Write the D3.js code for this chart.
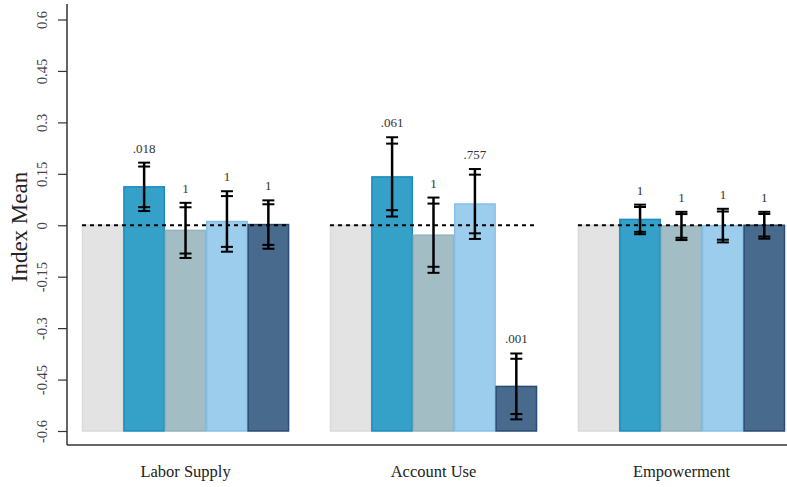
<!DOCTYPE html>
<html>
<head>
<meta charset="utf-8">
<script src="https://cdn.jsdelivr.net/npm/d3@7"></script>
<style>
  body { margin: 0; background: #fff; }
  svg text { font-family: "Liberation Serif", "Times New Roman", serif !important; }
</style>
</head>
<body>
<div id="chart-area"></div>
<script>
// data
const groups = ['Labor Supply', 'Account Use', 'Empowerment'];
const series = ['control', 'treat1', 'treat2', 'treat3', 'treat4'];
const means = [
  [0, 0.112, -0.015, 0.011, 0.002],
  [0, 0.141, -0.029, 0.062, -0.470],
  [0, 0.017, -0.002, -0.001, 0.000]
];
const ses = [
  [null, 0.036, 0.041, 0.045, 0.036],
  [null, 0.059, 0.056, 0.052, 0.049],
  [null, 0.022, 0.021, 0.025, 0.020]
];
const pvals = [
  [null, '.018', '1', '1', '1'],
  [null, '.061', '1', '.757', '.001'],
  [null, '1', '1', '1', '1']
];
const yTicks = [-0.6, -0.45, -0.3, -0.15, 0, 0.15, 0.3, 0.45, 0.6];

const fills = ['#e3e3e3', '#35a1c9', '#a3bdc5', '#9dcdec', '#486a8c'];
const strokes = ['#dadada', '#1b8bbf', '#95b1ba', '#86c0e8', '#2b4c72'];

const W = 787, H = 487;
const svg = d3.select('#chart-area')
  .append('svg')
  .attr('width', W)
  .attr('height', H);

const y = d3.scaleLinear()
  .domain([-0.6, 0.6])
  .range([431, 19.5]);

const x0 = d3.scaleBand()
  .domain(groups)
  .range([61.5, 805.5])
  .paddingInner(0.165)
  .paddingOuter(0.0827);

const x1 = d3.scaleBand()
  .domain(series)
  .range([0, x0.bandwidth()]);

// flatten into rows
const rows = [];
groups.forEach((g, i) => {
  series.forEach((s, j) => {
    rows.push({group: g, series: s, idx: j, mean: means[i][j], se: ses[i][j], p: pvals[i][j]});
  });
});

// bars
svg.append('g').selectAll('rect')
  .data(rows)
  .join('rect')
    .attr('x', d => x0(d.group) + x1(d.series) + 0.5)
    .attr('y', d => y(d.mean))
    .attr('width', x1.bandwidth() - 1)
    .attr('height', d => y(-0.6) - y(d.mean))
    .attr('fill', d => fills[d.idx])
    .attr('stroke', d => strokes[d.idx])
    .attr('stroke-width', 1.5);

// dashed zero line per group
svg.append('g').selectAll('line')
  .data(groups)
  .join('line')
    .attr('x1', d => x0(d))
    .attr('x2', d => x0(d) + x0.bandwidth())
    .attr('y1', y(0))
    .attr('y2', y(0))
    .attr('stroke', '#000')
    .attr('stroke-width', 2)
    .attr('stroke-dasharray', '4,4');

// error bars (95% and 90% CI)
const errRows = rows.filter(d => d.se !== null);
const eg = svg.append('g').selectAll('g')
  .data(errRows)
  .join('g')
    .attr('transform', d => `translate(${x0(d.group) + x1(d.series) + x1.bandwidth() / 2},0)`);

eg.append('line')
  .attr('y1', d => y(d.mean + 1.96 * d.se))
  .attr('y2', d => y(d.mean - 1.96 * d.se))
  .attr('stroke', '#000')
  .attr('stroke-width', 2.5);

[1.96, 1.645].forEach(z => {
  [1, -1].forEach(sign => {
    eg.append('line')
      .attr('x1', -6)
      .attr('x2', 6)
      .attr('y1', d => y(d.mean + sign * z * d.se))
      .attr('y2', d => y(d.mean + sign * z * d.se))
      .attr('stroke', '#000')
      .attr('stroke-width', 2);
  });
});

eg.append('text')
  .attr('y', d => y(d.mean + 1.96 * d.se) - 10)
  .attr('text-anchor', 'middle')
  .style('font-size', '13px')
  .attr('fill', '#333')
  .text(d => d.p);

// y axis
const yAxis = svg.append('g')
  .attr('transform', 'translate(67,0)')
  .call(d3.axisLeft(y).tickValues(yTicks).tickSize(9).tickFormat(d => String(d)));
yAxis.attr('font-family', null).attr('font-size', null);
yAxis.select('.domain')
  .attr('d', `M0,4V${445}`)
  .attr('stroke', '#333')
  .attr('stroke-width', 1.5);
yAxis.selectAll('.tick line').attr('stroke', '#333').attr('stroke-width', 1.2);
yAxis.selectAll('.tick text')
  .attr('x', null).attr('dy', null)
  .attr('transform', 'translate(-20,0) rotate(-90)')
  .attr('text-anchor', 'middle')
  .style('font-size', '14.5px')
  .attr('fill', '#444');

// x axis line
svg.append('line')
  .attr('x1', 67).attr('x2', W)
  .attr('y1', 445).attr('y2', 445)
  .attr('stroke', '#333')
  .attr('stroke-width', 1.5);

// x labels
svg.append('g').selectAll('text')
  .data(groups)
  .join('text')
    .attr('x', d => x0(d) + x0.bandwidth() / 2)
    .attr('y', 477)
    .attr('text-anchor', 'middle')
    .style('font-size', '16.5px')
    .attr('fill', '#222')
    .text(d => d);

// y label
svg.append('text')
  .attr('transform', 'translate(27,227) rotate(-90)')
  .attr('text-anchor', 'middle')
  .style('font-size', '23px')
  .attr('fill', '#222')
  .text('Index Mean');
</script>
</body>
</html>
